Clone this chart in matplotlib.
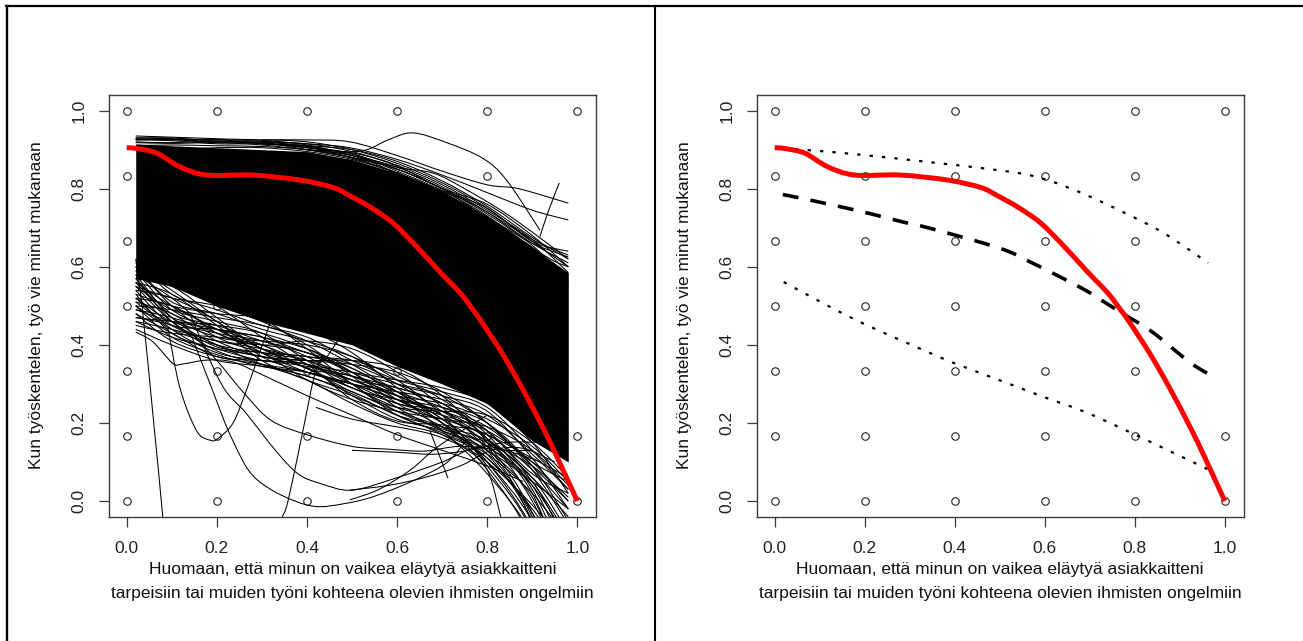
import matplotlib
matplotlib.use("Agg")
import matplotlib.pyplot as plt
from matplotlib.lines import Line2D
from matplotlib.path import Path
from matplotlib.patches import PathPatch

plt.rcParams['font.family'] = ['Liberation Sans', 'DejaVu Sans']

W, H = 1303, 641
XLABEL = "Huomaan, että minun on vaikea eläytyä asiakkaitteni\ntarpeisiin tai muiden työni kohteena olevien ihmisten ongelmiin"
YLABEL = "Kun työskentelen, työ vie minut mukanaan"
TICKS = [0.0, 0.2, 0.4, 0.6, 0.8, 1.0]

# observed answers: x column -> y levels
PTS_X = [0.0, 0.2, 0.4, 0.6, 0.8, 1.0]
PTS_Y = [[0, 1/6, 2/6, 3/6, 4/6, 5/6, 1],
         [0, 1/6, 2/6, 3/6, 4/6, 5/6, 1],
         [0, 1/6, 2/6, 3/6, 4/6, 5/6, 1],
         [0, 1/6, 2/6, 3/6, 4/6, 5/6, 1],
         [0, 1/6, 2/6, 3/6, 4/6, 5/6, 1],
         [0, 1/6, 1]]

# red curve
RED_X = [0, .022, .067, .118, .178, .28, .385, .458, .495, .54, .591, .644, .695, .74, .769, .79, .835, .88, .924, .955, 1]
RED_Y = [.905, .903, .891, .856, .835, .835, .822, .803, .782, .753, .712, .651, .587, .533, .489, .455, .375, .284, .187, .113, 0]

# right panel: mean and limits
MEAN_X = [.018, .078, .195, .284, .344, .499, .572, .681, .732, .772, .839, .925, .981]
MEAN_Y = [.785, .771, .741, .715, .699, .648, .61, .546, .51, .481, .433, .353, .315]
UP_X = [.018, .2, .493, .592, .688, .783, .865, .963]
UP_Y = [.904, .886, .848, .827, .786, .735, .686, .61]
LO_X = [.02, .122, .2, .3, .395, .515, .592, .688, .788, .883, .965]
LO_Y = [.561, .498, .453, .402, .355, .303, .269, .229, .177, .125, .08]

# knots shared by the bundle of simulated curves
KNOTS = [.02, .1, .2, .3, .4, .5, .6, .7, .8, .9, .98]
# region where curves overlap into solid black
MASS_TOP = [.915, .91, .905, .90, .895, .875, .84, .795, .73, .65, .585]
MASS_BOT = [.57, .55, .50, .46, .43, .40, .345, .30, .25, .155, .10]

UPPER_BUNDLE = [
    [.935, .932, .928, .924, .912, .885, .85, .80, .735, .655, .565],
    [.930, .930, .922, .922, .906, .89, .845, .795, .73, .645, .55],
    [.928, .925, .926, .915, .908, .878, .84, .79, .72, .65, .56],
    [.925, .926, .918, .918, .90, .88, .838, .785, .725, .635, .54],
    [.93, .928, .925, .925, .92, .90, .865, .815, .75, .665, .60],
    [.926, .927, .92, .92, .915, .895, .86, .81, .745, .67, .585],
    [.92, .918, .922, .917, .905, .885, .855, .805, .74, .66, .61],
    [.925, .923, .915, .915, .91, .90, .87, .82, .755, .675, .62],
    [.918, .916, .918, .912, .90, .892, .858, .80, .76, .68, .60],
    [.91, .912, .91, .908, .90, .88, .85, .80, .74, .67, .63],
    [.905, .90, .905, .905, .895, .875, .84, .795, .75, .665, .64],
]

LOWER_BUNDLE = [
    [.60, .50, .42, .38, .35, .33, .31, .29, .25, .15, .02],
    [.50, .49, .47, .45, .41, .35, .28, .20, .10, -.05, -.25],
    [.58, .47, .40, .37, .36, .35, .33, .28, .20, .08, -.06],
    [.47, .46, .45, .43, .39, .33, .25, .19, .11, -.02, -.16],
    [.55, .52, .50, .46, .40, .32, .24, .18, .13, .05, -.02],
    [.52, .44, .38, .36, .345, .32, .29, .25, .17, .03, -.18],
    [.56, .50, .44, .38, .33, .30, .28, .26, .22, .12, .03],
    [.45, .43, .42, .41, .40, .37, .31, .22, .09, -.08, -.38],
    [.60, .54, .46, .39, .34, .29, .25, .22, .18, .10, .00],
    [.48, .41, .37, .35, .33, .29, .24, .21, .17, .11, .06],
    [.53, .50, .48, .47, .44, .38, .29, .21, .14, .05, -.12],
    [.57, .46, .385, .35, .32, .28, .23, .19, .14, .04, -.10],
    [.51, .48, .41, .37, .36, .36, .34, .27, .15, -.03, -.28],
    [.46, .42, .39, .37, .34, .27, .21, .18, .13, .01, -.20],
    [.59, .56, .50, .42, .35, .31, .29, .25, .16, .02, -.22],
    [.54, .45, .41, .40, .38, .33, .26, .20, .12, -.05, -.32],
    [.49, .47, .43, .38, .31, .26, .23, .21, .19, .13, .04],
    [.56, .53, .45, .36, .31, .27, .22, .17, .10, -.01, -.12],
    [.44, .40, .36, .345, .32, .275, .22, .19, .155, .06, -.08],
    [.61, .57, .53, .47, .39, .30, .23, .185, .15, .09, .01],
    [.50, .44, .40, .38, .37, .34, .27, .18, .07, -.09, -.35],
    [.47, .45, .40, .35, .31, .25, .20, .17, .11, -.03, -.24],
    [.58, .52, .43, .40, .41, .39, .33, .24, .13, -.04, -.30],
    [.55, .49, .46, .43, .36, .29, .26, .24, .20, .09, -.05],
    [.52, .46, .43, .41, .37, .30, .22, .175, .12, .02, -.10],
    [.59, .49, .44, .42, .38, .35, .30, .23, .16, .06, -.04],
    [.57, .55, .47, .39, .37, .36, .32, .26, .18, .07, .02],
    [.53, .43, .39, .36, .35, .30, .25, .23, .16, .00, -.20],
    [.46, .44, .41, .39, .36, .31, .27, .25, .21, .14, .05],
    [.60, .51, .48, .44, .41, .37, .30, .27, .23, .11, -.02],
    [.56, .47, .42, .40, .34, .32, .28, .24, .19, .10, .05],
    [.51, .45, .44, .42, .39, .34, .28, .22, .15, .04, -.15],
    [.54, .52, .46, .37, .33, .30, .26, .23, .18, .05, -.09],
    [.48, .43, .37, .36, .35, .31, .27, .22, .14, -.06, -.42],
    [.62, .53, .49, .45, .42, .36, .31, .28, .24, .13, .03],
    [.57, .48, .45, .41, .38, .33, .30, .27, .20, .09, .00],
    [.52, .50, .44, .39, .34, .28, .24, .23, .22, .15, .06],
    [.55, .46, .395, .38, .36, .32, .27, .21, .10, -.07, -.30],
    [.49, .46, .44, .40, .35, .26, .205, .195, .17, .08, -.02],
    [.50, .42, .375, .345, .33, .30, .26, .20, .08, -.10, -.36],
]

# single curves that stand apart from the bundle: (x list, y list)
STRAY_X = [
    [.02, .035, .06, .08, .095],
    [.092, .118, .155, .185, .202, .236, .266, .295, .318, .35],
    [.02, .058, .102, .124, .178, .236, .311, .40, .50, .60, .70, .80, .88],
    [.145, .185, .235, .29, .40, .49, .58, .70, .75],
    [.14, .21, .265, .33, .38, .43, .50, .60, .70, .78, .84, .92],
    [.12, .20, .26, .32, .40, .50, .58, .66, .74, .84, .90],
    [.345, .358, .39, .42, .445, .50, .54],
    [.30, .40, .48, .533, .58, .635, .71, .79, .843, .917],
    [.30, .40, .495, .60, .70, .80, .87, .98],
    [.30, .40, .495, .60, .70, .80, .90, .98],
    [.30, .40, .495, .60, .68, .75, .85, .98],
    [.40, .50, .58, .66, .74, .84, .90, .98],
    [.40, .52, .60, .70, .78, .86, .94, .98],
    [.917, .935, .96],
    [.673, .713],
    [.495, .56, .63, .68, .73, .80],
    [.495, .58, .66, .74, .81, .88, .95],
    [.50, .60, .68, .76, .84, .93],
    [.42, .50, .60, .68, .75, .80, .83],
]
STRAY_Y = [
    [.62, .49, .20, -.04, -.25],
    [.44, .29, .18, .156, .16, .20, .285, .38, .455, .56],
    [.433, .408, .353, .351, .361, .356, .318, .27, .22, .17, .13, .09, .05],
    [.42, .30, .156, .054, -.01, -.005, .025, .09, .15],
    [.48, .30, .225, .13, .07, .045, .028, .06, .10, .14, .13, .10],
    [.46, .36, .277, .207, .17, .14, .133, .128, .14, .13, .13],
    [-.04, .0, .174, .335, .37, .47, .55],
    [.92, .91, .895, .90, .925, .943, .918, .878, .822, .694],
    [.925, .925, .92, .885, .845, .81, .80, .763],
    [.92, .915, .905, .875, .835, .79, .745, .72],
    [.915, .905, .89, .855, .84, .80, .73, .62],
    [.90, .885, .85, .81, .765, .70, .66, .625],
    [.90, .875, .85, .80, .74, .68, .62, .60],
    [.677, .74, .815],
    [.18, .059],
    [.003, .03, .08, .13, .17, .22],
    [.028, .04, .06, .09, .13, .135, .10],
    [.13, .125, .12, .13, .15, .15],
    [.24, .21, .19, .17, .135, .08, -.04],
]

COL_AXIS = '#3a3a3a'
FS_LABEL = 12.5


def smooth(xs, ys):
    """Bezier path through the read points (Catmull-Rom handles)."""
    verts = [(xs[0], ys[0])]
    codes = [Path.MOVETO]
    n = len(xs)
    for i in range(n - 1):
        x0, y0 = (xs[i - 1], ys[i - 1]) if i > 0 else (xs[i], ys[i])
        x1, y1 = xs[i], ys[i]
        x2, y2 = xs[i + 1], ys[i + 1]
        x3, y3 = (xs[i + 2], ys[i + 2]) if i + 2 < n else (x2, y2)
        verts += [(x1 + (x2 - x0) / 6, y1 + (y2 - y0) / 6),
                  (x2 - (x3 - x1) / 6, y2 - (y3 - y1) / 6),
                  (x2, y2)]
        codes += [Path.CURVE4] * 3
    return Path(verts, codes)


def draw_curve(ax, xs, ys, lw=0.75, color='black', ls='-', z=3):
    ax.add_patch(PathPatch(smooth(xs, ys), fill=False, ec=color, lw=lw, ls=ls,
                           capstyle='butt', zorder=z))


def make_axes(fig, left, right):
    top, bottom = 95, 516.7
    ax = fig.add_axes([left / W, 1 - bottom / H, (right - left) / W, (bottom - top) / H])
    ax.set_xlim(-0.0393, 1.0415)
    ax.set_ylim(-0.040, 1.040)
    ax.set_xticks(TICKS)
    ax.set_yticks(TICKS)
    ax.set_xticklabels([f"{t:.1f}" for t in TICKS])
    ax.set_yticklabels([f"{t:.1f}" for t in TICKS], rotation=90, va='center')
    ax.tick_params(axis='both', length=7.3, width=0.9, color=COL_AXIS, labelsize=FS_LABEL,
                   labelcolor='#222222')
    ax.tick_params(axis='x', pad=10.5)
    ax.tick_params(axis='y', pad=9)
    for s in ax.spines.values():
        s.set_linewidth(1.0)
        s.set_color(COL_AXIS)
    for x, ys in zip(PTS_X, PTS_Y):
        ax.plot([x] * len(ys), ys, ls='none', marker='o', ms=5.4, mfc='none',
                mec='#222222', mew=0.8, zorder=2)
    fig.text((left + right) / 2 / W, 1 - 581.5 / H, XLABEL, ha='center', va='center',
             fontsize=FS_LABEL, color='#111111', linespacing=1.7)
    fig.text((left - 72) / W, 1 - 305 / H, YLABEL, rotation=90, ha='center', va='center',
             fontsize=FS_LABEL, color='#111111')
    return ax


fig = plt.figure(figsize=(W / 100, H / 100), dpi=100, facecolor='white')

ax1 = make_axes(fig, 109, 596)
ax1.fill_between(KNOTS, MASS_BOT, MASS_TOP, color='black', lw=0, zorder=3)
for c in UPPER_BUNDLE + LOWER_BUNDLE:
    draw_curve(ax1, KNOTS, c)
for xs, ys in zip(STRAY_X, STRAY_Y):
    draw_curve(ax1, xs, ys)
draw_curve(ax1, RED_X, RED_Y, lw=3.6, color='#ff0000', z=5)

ax2 = make_axes(fig, 757, 1243.5)
draw_curve(ax2, RED_X, RED_Y, lw=3.6, color='#ff0000', z=5)
draw_curve(ax2, MEAN_X, MEAN_Y, lw=2.6, ls=(0, (4.4, 3.4)), z=4)
draw_curve(ax2, UP_X, UP_Y, lw=1.6, ls=(0, (1.5, 4.1)), z=4)
draw_curve(ax2, LO_X, LO_Y, lw=1.6, ls=(0, (1.5, 4.1)), z=4)

# outer table borders
for (x0, y0, x1, y1, lw) in [(7, 6, 7, 641, 1.7), (6, 6, 1303, 6, 1.6),
                             (655, 6, 655, 641, 1.5), (1302.5, 6, 1302.5, 641, 0.6)]:
    fig.add_artist(Line2D([x0 / W, x1 / W], [1 - y0 / H, 1 - y1 / H], color='black',
                          lw=lw, transform=fig.transFigure))

fig.savefig('out.png', dpi=100)
